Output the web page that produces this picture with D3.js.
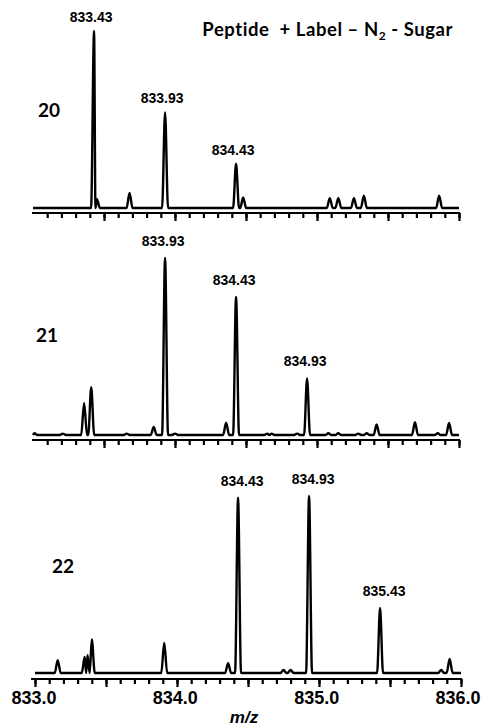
<!DOCTYPE html>
<html>
<head>
<meta charset="utf-8">
<script src="https://cdn.jsdelivr.net/npm/d3@7/dist/d3.min.js"></script>
<style>
	body { margin: 0; background: #fff; }
	svg { display: block; }
	.peak-label { font-family: 'Liberation Sans', Arial, sans-serif; font-size: 14px; font-weight: bold; }
	.scan { font-family: Lato, 'Open Sans', sans-serif; font-size: 19px; font-weight: bold; }
	.title { font-family: Lato, 'Open Sans', sans-serif; font-size: 18.5px; font-weight: bold; letter-spacing: 0.55px; }
	.mz-label { font-family: 'Liberation Sans', Arial, sans-serif; font-size: 18px; font-weight: bold; }
	.mz-title { font-family: 'Liberation Sans', Arial, sans-serif; font-size: 17px; font-weight: bold; font-style: italic; }
</style>
</head>
<body>
<script>
// scan numbers (one panel each)
const scans = ['20', '21', '22'];

// [m/z, relative intensity]
const peaks20 = [
	[833.43, 100], [833.45, 5], [833.68, 8.5], [833.93, 54], [834.43, 25], [834.48, 6],
	[835.09, 5.6], [835.15, 5.6], [835.26, 5.6], [835.33, 7], [835.86, 7]
];
const peaks21 = [
	[833.01, 1], [833.21, 0.8], [833.36, 18], [833.41, 27], [833.66, 0.8], [833.85, 4.5],
	[833.93, 100], [834.00, 0.8], [834.36, 7], [834.43, 78], [834.65, 0.8], [834.68, 0.8],
	[834.86, 0.8], [834.93, 32], [835.08, 1], [835.15, 1], [835.29, 0.8], [835.35, 1],
	[835.42, 6], [835.69, 7.3], [835.85, 1], [835.93, 6.8]
];
const peaks22 = [
	[833.16, 7.3], [833.35, 9], [833.37, 10], [833.40, 19], [833.91, 17], [834.36, 5.6],
	[834.43, 99], [834.75, 1.7], [834.80, 1.7], [834.93, 100], [835.43, 36.7], [835.86, 1.7],
	[835.92, 8]
];

// labelled isotope peaks
const labels20 = [833.43, 833.93, 834.43];
const labels21 = [833.93, 834.43, 834.93];
const labels22 = [834.43, 834.93, 835.43];

// x axis
const mzDomain = [833.0, 836.0];
const mzTickLabels = [833.0, 834.0, 835.0, 836.0];

class Spectra {
	constructor() {
		this._width = 483;
		this._height = 726;
		this._peakHeight = 177;
		this._halfWidth = 0.021;
		this._panels = [
			{scan: scans[0], peaks: peaks20, labels: labels20, base: 208, axisGap: 5, x0: 33, axisLeft: 1, firstTick: false, labelDy: 14, labelDx: -3, scanX: 38, scanY: 117},
			{scan: scans[1], peaks: peaks21, labels: labels21, base: 435, axisGap: 5, x0: 33, axisLeft: 1, firstTick: false, labelDy: 17, labelDx: -2, scanX: 36, scanY: 342},
			{scan: scans[2], peaks: peaks22, labels: labels22, base: 673, axisGap: 6, x0: 35, axisLeft: 4, firstTick: true, labelDy: 17, labelDx: 4, scanX: 52, scanY: 573}
		];
		this._svg = null;
	}
	render() {
		this._svg = d3.select('body')
			.append('svg')
			.attr('width', this._width)
			.attr('height', this._height)
			.style('background', '#fff')

		this._panels.forEach((p, i) => this.renderPanel(p, i));
		this.renderTitle();
		this.renderMzLabels();
	}
	scaleX(p) {
		return d3.scaleLinear().domain(mzDomain).range([p.x0, p.x0 + 426]);
	}
	scaleY(p) {
		return d3.scaleLinear().domain([0, 100]).range([p.base, p.base - this._peakHeight]);
	}
	profile(peaks) {
		// feet + apex for each peak, feet clipped halfway to the neighbour
		let sorted = peaks.slice().sort((a, b) => a[0] - b[0]);
		let pts = [[mzDomain[0], 0]];
		sorted.forEach((d, i) => {
			let prev = sorted[i - 1], next = sorted[i + 1];
			let left = prev ? Math.max(d[0] - this._halfWidth, (prev[0] + d[0]) / 2) : d[0] - this._halfWidth;
			let right = next ? Math.min(d[0] + this._halfWidth, (d[0] + next[0]) / 2) : d[0] + this._halfWidth;
			if(pts[pts.length - 1][0] < left - 1e-9) pts.push([left, 0]);
			pts.push([d[0], d[1]]);
			pts.push([right, 0]);
		})
		pts.push([mzDomain[1], 0]);
		return pts;
	}
	renderPanel(p, i) {
		let x = this.scaleX(p);
		let y = this.scaleY(p);
		let g = this._svg.append('g').attr('class', 'panel _' + i);

		let line = d3.line()
			.x(d => x(d[0]))
			.y(d => y(d[1]))
			.curve(d3.curveMonotoneX)

		g.append('path')
			.attr('d', line(this.profile(p.peaks)))
			.attr('fill', 'none')
			.attr('stroke', '#000')
			.attr('stroke-width', 2.4)
			.attr('stroke-linejoin', 'round')

		// axis: minor ticks every 0.1, major every 0.5
		let axisY = p.base + p.axisGap;
		let minor = x.ticks(30).filter(d => p.firstTick || d > mzDomain[0] + 0.05);
		let major = minor.filter(d => Math.abs(d * 2 - Math.round(d * 2)) < 1e-6);

		let minorAxis = d3.axisBottom(x).tickValues(minor).tickSize(5).tickSizeOuter(0).tickFormat('');
		let majorAxis = d3.axisBottom(x).tickValues(major).tickSize(8).tickSizeOuter(0).tickFormat('');

		let ga = g.append('g')
			.attr('class', 'x axis')
			.attr('transform', `translate(0, ${axisY})`)
			.call(minorAxis)
		ga.append('g').call(majorAxis).select('.domain').remove();
		ga.selectAll('.domain').attr('stroke-width', 2.2).attr('d', `M${x.range()[0] - p.axisLeft},0H${x.range()[1] + 1}`);
		ga.selectAll('.tick line').attr('stroke-width', 2.2);

		g.selectAll('text.peak-label')
			.data(p.labels)
			.enter()
			.append('text')
			.attr('class', 'peak-label')
			.attr('x', d => x(d) + p.labelDx)
			.attr('y', d => y(p.peaks.find(v => v[0] === d)[1]) - p.labelDy)
			.attr('dy', '.35em')
			.attr('text-anchor', 'middle')
			.text(d => d.toFixed(2))

		g.append('text')
			.attr('class', 'scan')
			.attr('x', p.scanX)
			.attr('y', p.scanY)
			.text(p.scan)
	}
	renderTitle() {
		let t = this._svg.append('text')
			.attr('class', 'title')
			.attr('x', 453)
			.attr('y', 36)
			.attr('text-anchor', 'end')
		t.append('tspan').text('Peptide \u00a0+ Label \u2013 N');
		t.append('tspan').attr('dy', 4).style('font-size', '12px').text('2');
		t.append('tspan').attr('dy', -4).text(' - Sugar');
	}
	renderMzLabels() {
		let x = d3.scaleLinear().domain(mzDomain).range([34, 458]);
		this._svg.append('g')
			.selectAll('text')
			.data(mzTickLabels)
			.enter()
			.append('text')
			.attr('class', 'mz-label')
			.attr('x', d => x(d))
			.attr('y', 704)
			.attr('text-anchor', 'middle')
			.text(d => d.toFixed(1))

		this._svg.append('text')
			.attr('class', 'mz-title')
			.attr('x', x(834.5) - 2)
			.attr('y', 723)
			.attr('text-anchor', 'middle')
			.text('m/z')
	}
}

new Spectra().render();
</script>
</body>
</html>
